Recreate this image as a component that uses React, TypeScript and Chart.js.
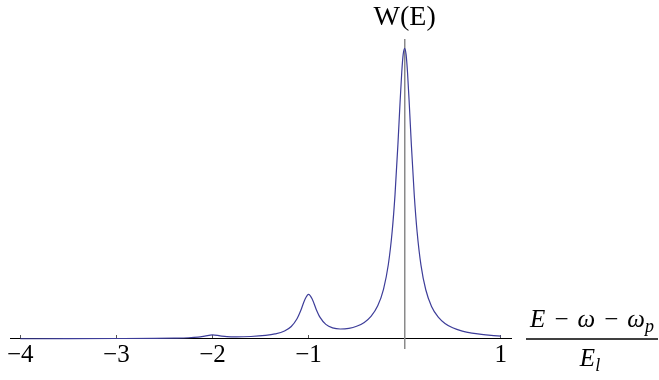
import React, { useEffect, useRef } from 'react';
import { Chart, registerables } from 'chart.js';

Chart.register(...registerables);

// Energy offset (E - ω - ω_p) / E_l
const xValues = [
  -4, -3.5, -3, -2.6, -2.4, -2.25, -2.15, -2.08, -2, -1.92, -1.85, -1.75, -1.6,
  -1.45, -1.35, -1.25, -1.18, -1.12, -1.08, -1.04, -1, -0.96, -0.92, -0.88, -0.82,
  -0.75, -0.67, -0.58, -0.5, -0.42, -0.35, -0.28, -0.22, -0.17, -0.13, -0.1, -0.07,
  -0.05, -0.03, -0.015, 0, 0.015, 0.03, 0.05, 0.07, 0.1, 0.13, 0.17, 0.22, 0.28,
  0.35, 0.42, 0.5, 0.6, 0.7, 0.8, 0.9, 1,
];

// W(E) (main peak = 1)
const wValues = [
  0.0008, 0.0011, 0.0016, 0.0023, 0.0031, 0.0043, 0.0065, 0.0099, 0.0143, 0.0108,
  0.0082, 0.0073, 0.0086, 0.0123, 0.0173, 0.0276, 0.0431, 0.0696, 0.0988, 0.1345,
  0.1537, 0.1359, 0.1018, 0.0742, 0.0504, 0.0383, 0.0344, 0.0366, 0.0437, 0.0571,
  0.0777, 0.114, 0.171, 0.2554, 0.369, 0.4967, 0.6685, 0.7984, 0.9175, 0.9792, 1.0,
  0.9791, 0.9174, 0.7982, 0.6681, 0.4963, 0.3682, 0.2543, 0.1694, 0.1121, 0.075,
  0.0534, 0.0384, 0.0271, 0.0201, 0.0156, 0.0124, 0.0101,
];

const xTickValues = [-4, -3, -2, -1, 1];
const xTickLabels = ['−4', '−3', '−2', '−1', '1'];
const yAxisLabel = 'W(E)';

const SERIF = '"Liberation Serif", "DejaVu Serif", serif';

const labelsPlugin = {
  id: 'axisLabels',
  afterDraw(chart: any) {
    const { ctx, chartArea, scales } = chart;
    const x0 = scales.x.getPixelForValue(0);
    const y0 = scales.y.getPixelForValue(0);
    ctx.save();
    ctx.fillStyle = '#000';
    ctx.strokeStyle = '#000';
    ctx.textBaseline = 'alphabetic';
    ctx.textAlign = 'left';

    // y axis label
    ctx.font = `28px ${SERIF}`;
    const tw = ctx.measureText(yAxisLabel).width;
    ctx.fillText(yAxisLabel, x0 - tw / 2, chartArea.top - 15);

    // x axis label as fraction
    const fl = chartArea.right + 15;
    const fr = chartArea.right + 147;
    const fc = (fl + fr) / 2;
    ctx.lineWidth = 1.3;
    ctx.beginPath();
    ctx.moveTo(fl, y0);
    ctx.lineTo(fr, y0);
    ctx.stroke();

    const it = `italic 25px ${SERIF}`;
    const rm = `25px ${SERIF}`;
    const sub = `italic 18px ${SERIF}`;
    const gap = 9;
    const num: { t: string; f: string; dy: number; pre: number }[] = [
      { t: 'E', f: it, dy: 0, pre: 0 },
      { t: '−', f: rm, dy: 0, pre: gap },
      { t: 'ω', f: it, dy: 0, pre: gap },
      { t: '−', f: rm, dy: 0, pre: gap },
      { t: 'ω', f: it, dy: 0, pre: gap },
      { t: 'p', f: sub, dy: 5, pre: 0 },
    ];
    const drawParts = (parts: typeof num, center: number, baseline: number) => {
      let total = 0;
      const widths = parts.map((p) => {
        ctx.font = p.f;
        const w = ctx.measureText(p.t).width;
        total += w + p.pre;
        return w;
      });
      let x = center - total / 2;
      parts.forEach((p, i) => {
        x += p.pre;
        ctx.font = p.f;
        ctx.fillText(p.t, x, baseline + p.dy);
        x += widths[i];
      });
    };
    drawParts(num, fc, y0 - 12);
    drawParts(
      [
        { t: 'E', f: it, dy: 0, pre: 0 },
        { t: 'l', f: sub, dy: 5, pre: 0 },
      ],
      fc - 2,
      y0 + 27
    );
    ctx.restore();
  },
};

export default function App() {
  const canvasRef = useRef<HTMLCanvasElement | null>(null);

  useEffect(() => {
    if (!canvasRef.current) return;
    const chart = new Chart(canvasRef.current, {
      type: 'line',
      data: {
        datasets: [
          {
            data: xValues.map((x, i) => ({ x, y: wValues[i] })),
            borderColor: '#3d3d99',
            borderWidth: 1.2,
            pointRadius: 0,
            fill: false,
            cubicInterpolationMode: 'monotone',
          },
        ],
      },
      options: {
        animation: false,
        responsive: false,
        events: [],
        layout: { padding: { left: 10, right: 148, top: 40, bottom: 32 } },
        plugins: { legend: { display: false }, tooltip: { enabled: false } },
        scales: {
          x: {
            type: 'linear',
            min: -4.107,
            max: 1.107,
            position: { y: 0 } as any,
            afterBuildTicks: (axis: any) => {
              axis.ticks = xTickValues.map((v) => ({ value: v }));
            },
            ticks: {
              callback: (v: any) => {
                const i = xTickValues.indexOf(Number(v));
                return i >= 0 ? xTickLabels[i] : '';
              },
              font: { family: SERIF, size: 25 },
              color: '#000',
              padding: 5,
              maxRotation: 0,
              autoSkip: false,
            },
            grid: {
              display: true,
              drawOnChartArea: false,
              drawTicks: true,
              tickLength: -4,
              tickColor: '#555',
              tickWidth: 1,
            },
            border: { display: true, color: '#000', width: 1 },
          },
          y: {
            type: 'linear',
            min: -0.031,
            max: 1.0285,
            position: { x: 0 } as any,
            ticks: { display: false },
            grid: { display: false },
            border: { display: true, color: '#8a8a8a', width: 1.5 },
          },
        },
      },
      plugins: [labelsPlugin],
    });
    return () => chart.destroy();
  }, []);

  return (
    <div style={{ position: 'fixed', left: 0, top: 0, width: 659, height: 380, background: '#fff' }}>
      <canvas ref={canvasRef} width={659} height={380} />
    </div>
  );
}
